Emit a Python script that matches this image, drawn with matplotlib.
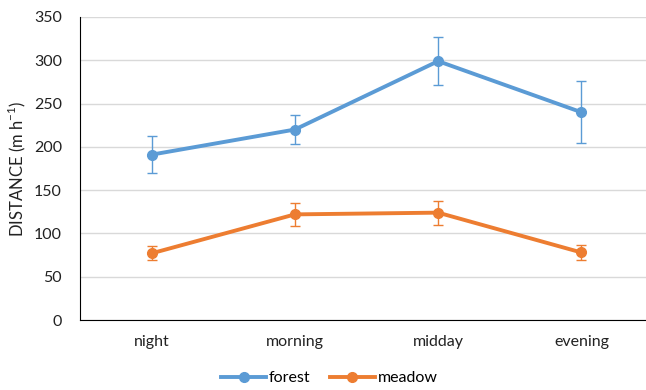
import matplotlib
matplotlib.use("Agg")
import matplotlib.pyplot as plt
from matplotlib.lines import Line2D

categories = ["night", "morning", "midday", "evening"]
forest = [191, 220, 299, 240]
forest_err = [21, 17, 28, 36]
meadow = [77, 122, 124, 78]
meadow_err = [8, 13, 14, 9]
yticks = [0, 50, 100, 150, 200, 250, 300, 350]

plt.rcParams['font.family'] = ['Lato', 'DejaVu Sans']

fig = plt.figure(figsize=(6.46, 3.9), dpi=100)
ax = fig.add_axes([80/646, 70/390, 573/646, 303/390])

x = list(range(len(categories)))
blue = "#5B9BD5"
orange = "#ED7D31"

ax.errorbar(x, forest, yerr=forest_err, color=blue, lw=2.8, marker='o', ms=7,
            ecolor=blue, elinewidth=1.0, capsize=3.5, capthick=1.0, zorder=3)
ax.errorbar(x, meadow, yerr=meadow_err, color=orange, lw=2.8, marker='o', ms=7,
            ecolor=orange, elinewidth=1.0, capsize=3.5, capthick=1.0, zorder=3)

ax.set_xlim(-0.5, 3.5)
ax.set_ylim(0, 350)
ax.set_yticks(yticks)
ax.set_xticks(x)
ax.set_xticklabels(categories)
ax.grid(axis='y', color='#D9D9D9', lw=1)
ax.set_axisbelow(True)
for s in ['top', 'right']:
    ax.spines[s].set_visible(False)
ax.spines['left'].set_color('black')
ax.spines['bottom'].set_color('black')
ax.tick_params(length=0, labelsize=11.5, colors='#222222')
ax.tick_params(axis='x', pad=11)
ax.tick_params(axis='y', pad=13)
ax.set_ylabel("DISTANCE (m h$^{\\mathregular{-1}}$)", fontsize=12, color='#222222', labelpad=4)

handles = [Line2D([], [], color=blue, lw=2.8, marker='o', ms=7),
           Line2D([], [], color=orange, lw=2.8, marker='o', ms=7)]
fig.legend(handles, ["forest", "meadow"], loc='lower center', bbox_to_anchor=(0.51, -0.025), ncol=2,
           frameon=False, fontsize=11.5, handlelength=2.8, handletextpad=0.2, columnspacing=1.2)

fig.savefig("out.png", dpi=100)
